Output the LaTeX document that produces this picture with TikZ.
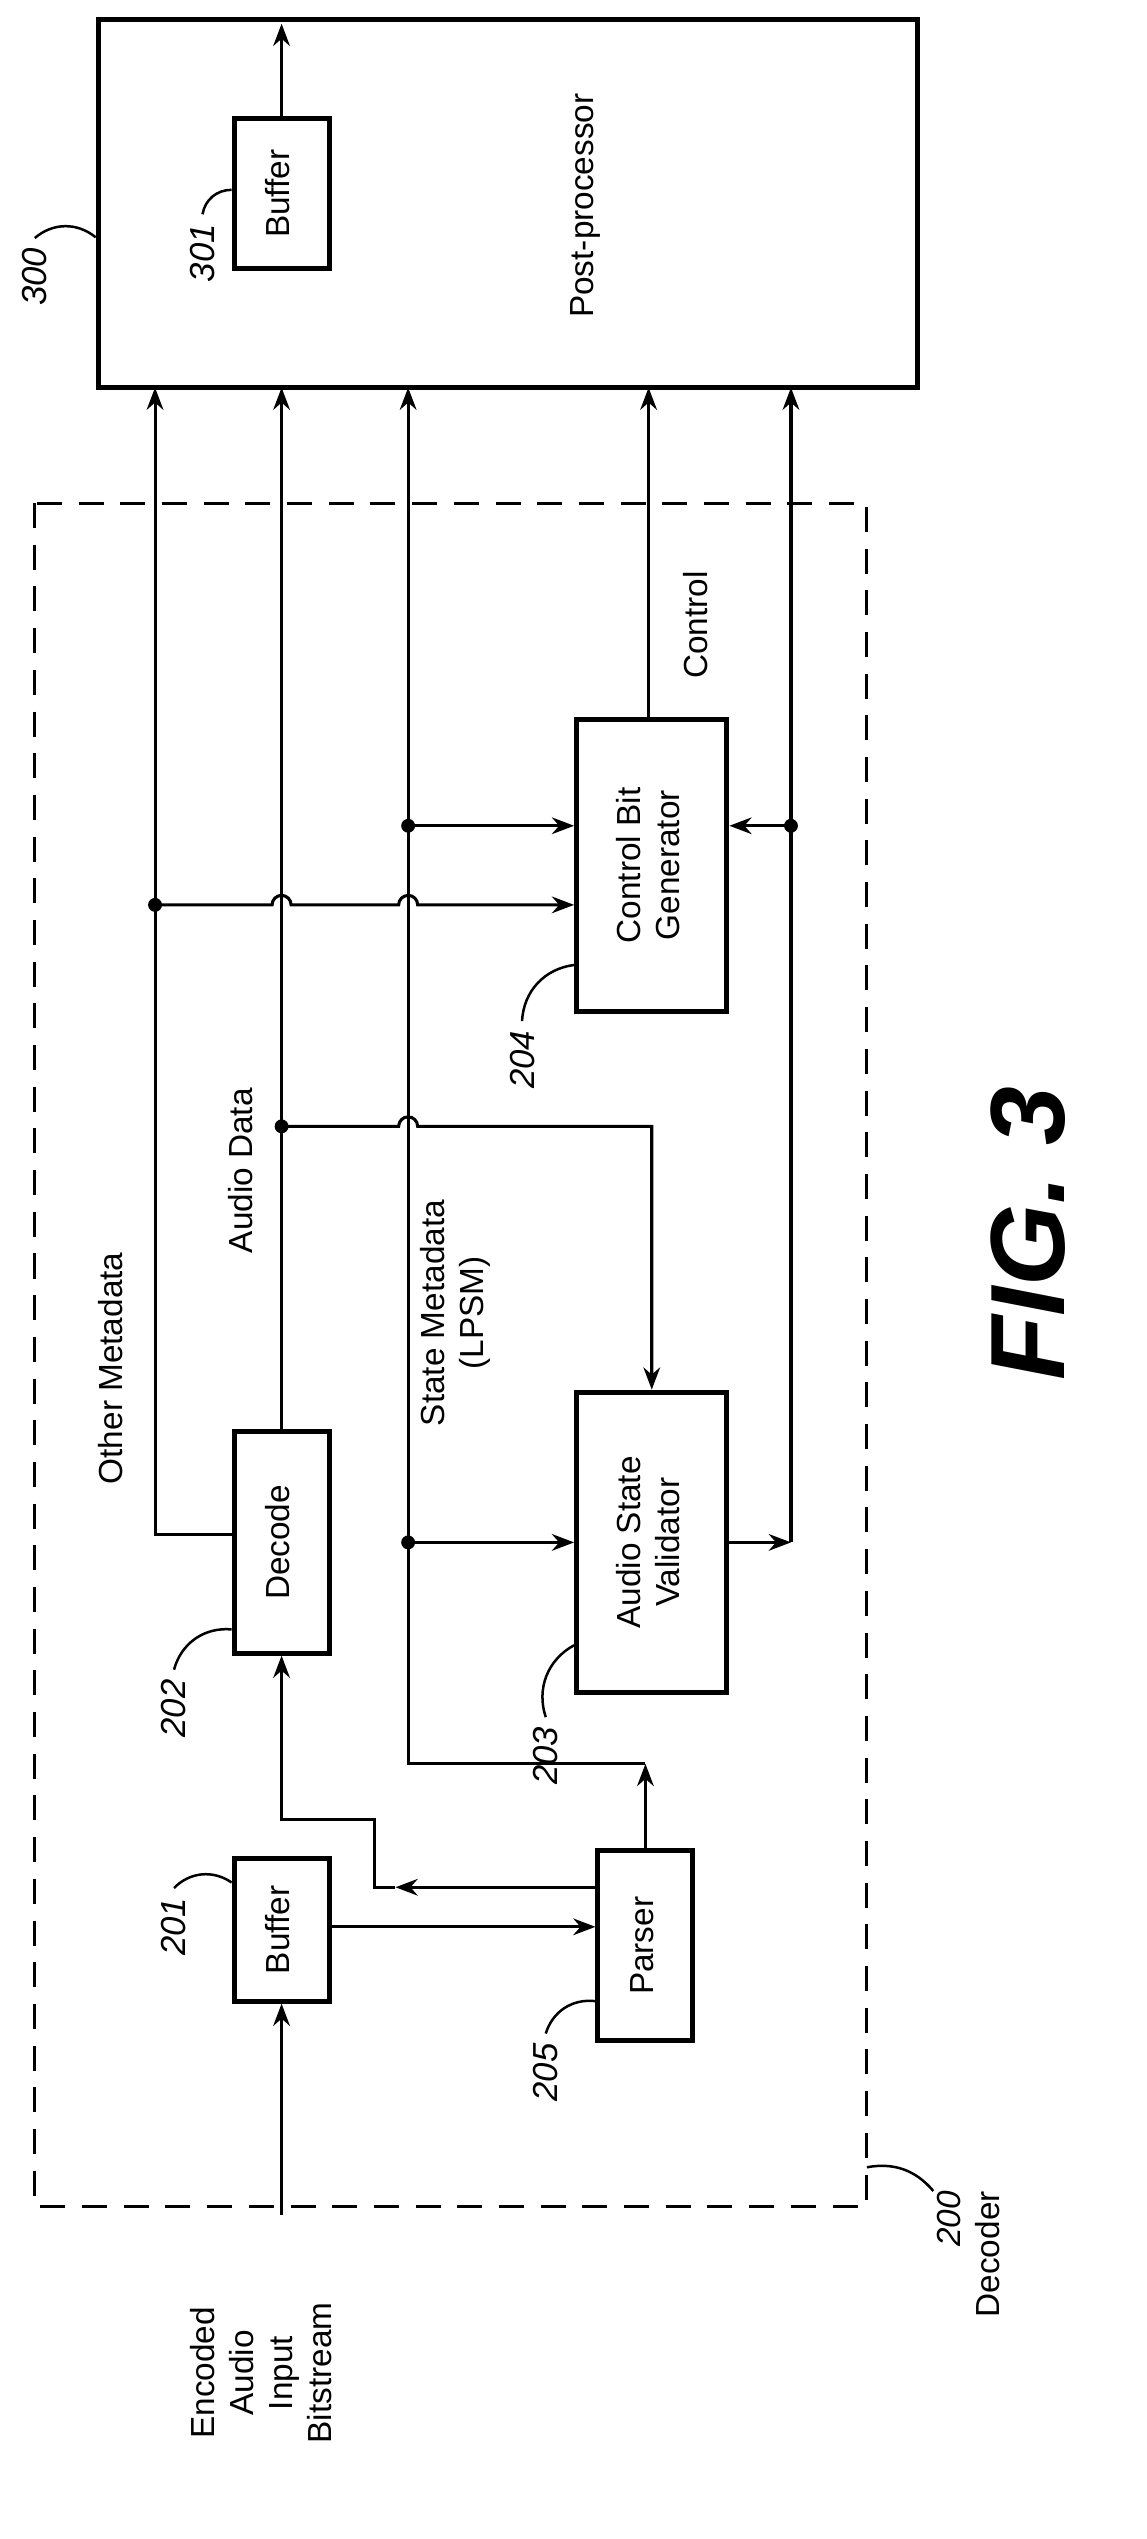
\documentclass[tikz,border=0pt]{standalone}
\usepackage{fontspec}
\setmainfont{Liberation Sans}
\usetikzlibrary{arrows.meta,positioning}
\newcommand{\vtxt}[1]{\rotatebox{90}{\begin{tabular}{@{}c@{}}#1\end{tabular}}}
\begin{document}
\begin{tikzpicture}[x=0.02cm,y=0.02cm,
    blk/.style={draw,line width=1.8pt,inner sep=0,font=\fontsize{12}{14}\selectfont},
    sig/.style={line width=1.1pt},
    arr/.style={sig,-{Stealth[length=8pt,width=6pt]}},
    dot/.style={circle,fill,inner sep=0,minimum size=5pt},
    lbl/.style={rotate=90,font=\fontsize{12}{14}\selectfont,align=center},
    ref/.style={rotate=90,font=\itshape\fontsize{12.5}{15}\selectfont},
    lead/.style={line width=0.9pt}]
    \useasboundingbox (0,0) rectangle (725,-1605);
    % boxes
    \draw[sig,dash pattern=on 9pt off 6pt] (22,-318) rectangle (548,-1395);
    \node[blk,minimum width=10.36cm,minimum height=4.66cm] (post) at (321,-128.5) {};
    \node[lbl] at (370,-130) {Post-processor};
    \node[blk,minimum width=1.2cm,minimum height=1.9cm] (buf301) at (178,-122.5) {\vtxt{Buffer}};
    \node[blk,minimum width=1.2cm,minimum height=1.8cm] (buf201) at (178,-1220) {\vtxt{Buffer}};
    \node[blk,minimum width=1.2cm,minimum height=2.4cm] (parser) at (408,-1230) {\vtxt{Parser}};
    \node[blk,minimum width=1.2cm,minimum height=2.8cm] (decode) at (178,-975) {\vtxt{Decode}};
    \node[blk,minimum width=1.9cm,minimum height=3.8cm] (valid) at (412,-975) {\vtxt{Audio State\\Validator}};
    \node[blk,minimum width=1.9cm,minimum height=3.7cm] (cbg) at (412,-547) {\vtxt{Control Bit\\Generator}};
    % junctions
    \coordinate (src) at (178,-1400);
    \coordinate (out) at (178,-15);
    \coordinate (pt) at (408,-1115);
    \coordinate (jom) at (98,-572);
    \coordinate (jad) at (178,-712);
    \coordinate (jsv) at (258,-975);
    \coordinate (jsc) at (258,-522);
    \coordinate (jvo) at (500,-522);
    \coordinate (vo) at (500,-975);
    % connectors
    \draw[arr] (src) -- (buf201.south);
    \draw[arr] (buf301.north) -- (out);
    \draw[arr] (buf201.east |- 0,-1218) -- (parser.west |- 0,-1218);
    \draw[arr] (parser.west |- 0,-1193) -- (250,-1193);
    \draw[arr] (250,-1193) -- (237,-1193) -- (237,-1150) -- (178,-1150) -- (decode.south);
    \draw[arr] (parser.north) -- (pt);
    \draw[arr] (pt) -- (258,-1115) -- (258,-245);
    \draw[arr] (decode.west |- 0,-970) -- (98,-970) -- (98,-245);
    \draw[arr] (decode.north) -- (178,-245);
    \draw[arr] (jad) -- (252,-712) arc[start angle=180,end angle=0,radius=6] -- (412,-712) -- (valid.north);
    \draw[arr] (jom) -- (172,-572) arc[start angle=180,end angle=0,radius=6]
        -- (252,-572) arc[start angle=180,end angle=0,radius=6] -- (cbg.west |- jom);
    \draw[arr] (jsv) -- (valid.west |- jsv);
    \draw[arr] (jsc) -- (cbg.west |- jsc);
    \draw[arr] (valid.east |- vo) -- (vo);
    \draw[sig] (vo) -- (jvo);
    \draw[arr] (jvo) -- (500,-245);
    \draw[arr] (jvo) -- (cbg.east |- jvo);
    \draw[arr] (cbg.north -| 410,0) -- (410,-245);
    \foreach \c in {jom,jad,jsv,jsc,jvo} \node[dot] at (\c) {};
    % labels
    \node[lbl] at (70,-865) {Other Metadata};
    \node[lbl] at (152,-740) {Audio Data};
    \node[lbl] at (288,-830) {State Metadata\\(LPSM)};
    \node[lbl] at (440,-395) {Control};
    \node[lbl] at (165,-1500) {Encoded\\Audio\\Input\\Bitstream};
    \node[lbl,align=right] at (612,-1425) {\textit{200}\\Decoder};
    % reference numbers
    \node[ref] (r300) at (22,-175) {300};
    \draw[lead] (r300.east) to[bend left=40] (post.west |- 0,-150);
    \node[ref] (r301) at (128,-160) {301};
    \draw[lead] (r301.east) to[bend left=40] (buf301.west |- 0,-120);
    \node[ref] (r201) at (110,-1218) {201};
    \draw[lead] (r201.east) to[bend left=40] (buf201.west |- 0,-1190);
    \node[ref] (r202) at (110,-1080) {202};
    \draw[lead] (r202.east) to[bend left=40] (decode.west |- 0,-1030);
    \node[ref] (r205) at (345,-1310) {205};
    \draw[lead] (r205.east) to[bend left=40] (parser.west |- 0,-1265);
    \node[ref] (r203) at (345,-1110) {203};
    \draw[lead] (r203.east) to[bend left=40] (valid.west |- 0,-1040);
    \node[ref] (r204) at (330,-670) {204};
    \draw[lead] (r204.east) to[bend left=40] (cbg.west |- 0,-610);
    \draw[lead] (548,-1370) to[bend left=30] (590,-1385);
    \node[rotate=90,font=\bfseries\itshape\fontsize{38}{42}\selectfont] at (650,-780) {FIG. 3};
\end{tikzpicture}
\end{document}
